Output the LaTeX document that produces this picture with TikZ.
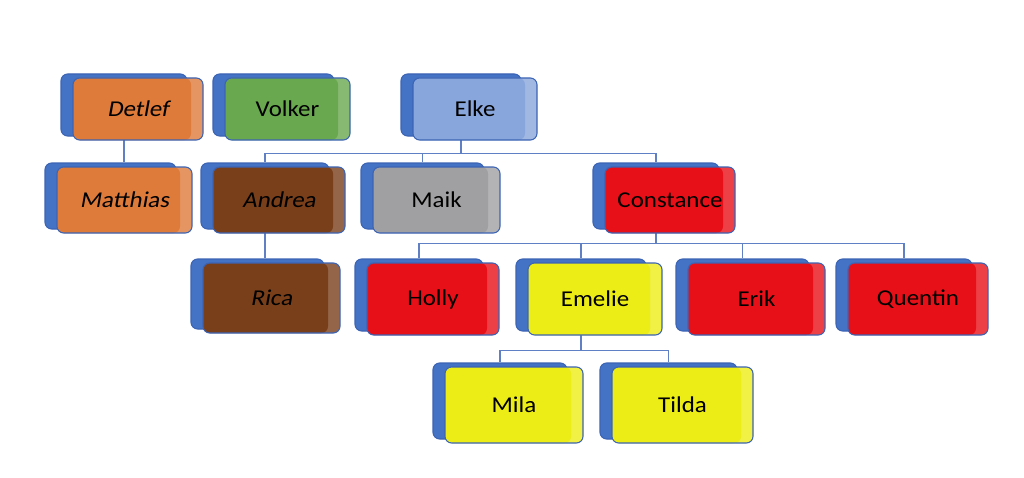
\documentclass[tikz,border=0pt]{standalone}
\usepackage{fontspec}
\newfontfamily\boxfont{Carlito}[FakeStretch=1.1]
\newfontfamily\slantfont{Carlito}[FakeStretch=1.1,FakeSlant=0.18]
\usetikzlibrary{calc,backgrounds}

\definecolor{boxblue}{RGB}{68,114,196}
\definecolor{edgeblue}{RGB}{60,100,180}
\definecolor{linkblue}{RGB}{95,128,196}
\definecolor{orangebox}{RGB}{222,122,58}
\definecolor{greenbox}{RGB}{106,168,79}
\definecolor{elkebox}{RGB}{137,166,220}
\definecolor{brownbox}{RGB}{121,63,26}
\definecolor{greybox}{RGB}{160,160,162}
\definecolor{redbox}{RGB}{232,16,24}
\definecolor{yellowbox}{RGB}{236,236,22}

\tikzset{
  backbox/.style={draw=edgeblue, fill=boxblue, rounded corners=5pt, thick},
  person/.style={draw=edgeblue, fill=#1!80!white, rounded corners=5pt,
    thick, font=\boxfont\fontsize{17}{20}\selectfont, text=black,
    path picture={\fill[#1] (path picture bounding box.south west)
      rectangle ([xshift=-9pt]path picture bounding box.north east);}},
  link/.style={draw=linkblue, line width=0.9pt},
}

\begin{document}
\begin{tikzpicture}[x=0.75pt, y=-0.75pt]
\useasboundingbox (0,0) rectangle (1024,478);

% first row
\node (detlef) [backbox, minimum width=126*0.75pt, minimum height=62*0.75pt] at (124,105) {};
\path (detlef)+(14,4) node (detlef-f) [person=orangebox, minimum width=130*0.75pt,
    minimum height=62*0.75pt] {\slantfont Detlef};

\node (volker) [backbox, minimum width=121*0.75pt, minimum height=62*0.75pt] at (273.5,105) {};
\path (volker)+(14,4) node (volker-f) [person=greenbox, minimum width=125*0.75pt,
    minimum height=62*0.75pt] {Volker};

\node (elke) [backbox, minimum width=120*0.75pt, minimum height=62*0.75pt] at (461,105) {};
\path (elke)+(14,4) node (elke-f) [person=elkebox, minimum width=124*0.75pt,
    minimum height=62*0.75pt] {Elke};

% second row
\node (matthias) [backbox, minimum width=131*0.75pt, minimum height=66*0.75pt] at (110.5,196) {};
\path (matthias)+(14,4) node (matthias-f) [person=orangebox, minimum width=135*0.75pt,
    minimum height=66*0.75pt] {\slantfont Matthias};

\node (andrea) [backbox, minimum width=128*0.75pt, minimum height=66*0.75pt] at (265,196) {};
\path (andrea)+(14,4) node (andrea-f) [person=brownbox, minimum width=132*0.75pt,
    minimum height=66*0.75pt] {\slantfont Andrea};

\node (maik) [backbox, minimum width=123*0.75pt, minimum height=66*0.75pt] at (422.5,196) {};
\path (maik)+(14,4) node (maik-f) [person=greybox, minimum width=127*0.75pt,
    minimum height=66*0.75pt] {Maik};

\node (constance) [backbox, minimum width=126*0.75pt, minimum height=66*0.75pt] at (656,196) {};
\path (constance)+(14,4) node (constance-f) [person=redbox, minimum width=130*0.75pt,
    minimum height=66*0.75pt] {Constance};

% third row
\node (rica) [backbox, minimum width=133*0.75pt, minimum height=70*0.75pt] at (257.5,294) {};
\path (rica)+(14,4) node (rica-f) [person=brownbox, minimum width=137*0.75pt,
    minimum height=70*0.75pt] {\slantfont Rica};

\node (holly) [backbox, minimum width=128*0.75pt, minimum height=72*0.75pt] at (419,295) {};
\path (holly)+(14,4) node (holly-f) [person=redbox, minimum width=132*0.75pt,
    minimum height=72*0.75pt] {Holly};

\node (emelie) [backbox, minimum width=130*0.75pt, minimum height=72*0.75pt] at (581,295) {};
\path (emelie)+(14,4) node (emelie-f) [person=yellowbox, minimum width=134*0.75pt,
    minimum height=72*0.75pt] {Emelie};

\node (erik) [backbox, minimum width=133*0.75pt, minimum height=72*0.75pt] at (742.5,295) {};
\path (erik)+(14,4) node (erik-f) [person=redbox, minimum width=137*0.75pt,
    minimum height=72*0.75pt] {Erik};

\node (quentin) [backbox, minimum width=136*0.75pt, minimum height=72*0.75pt] at (904,295) {};
\path (quentin)+(14,4) node (quentin-f) [person=redbox, minimum width=140*0.75pt,
    minimum height=72*0.75pt] {Quentin};

% fourth row
\node (mila) [backbox, minimum width=134*0.75pt, minimum height=76*0.75pt] at (500,401) {};
\path (mila)+(14,4) node (mila-f) [person=yellowbox, minimum width=138*0.75pt,
    minimum height=76*0.75pt] {Mila};

\node (tilda) [backbox, minimum width=137*0.75pt, minimum height=76*0.75pt] at (668.5,401) {};
\path (tilda)+(14,4) node (tilda-f) [person=yellowbox, minimum width=141*0.75pt,
    minimum height=76*0.75pt] {Tilda};

% connectors
\begin{scope}[on background layer]
\path[link] (detlef.south) -- (detlef.south |- matthias.north);
\path[link] (andrea.south) -- (andrea.south |- rica.north);

\coordinate (elke-bar) at ($(elke.south)+(0,17)$);
\path[link] (elke.south) -- (elke-bar);
\path[link] (elke-bar) -| (andrea.north);
\path[link] (elke-bar) -| (maik.north);
\path[link] (elke-bar) -| (constance.north);

\coordinate (constance-bar) at ($(constance.south)+(0,14)$);
\path[link] (constance.south) -- (constance-bar);
\path[link] (constance-bar) -| (holly.north);
\path[link] (constance-bar) -| (emelie.north);
\path[link] (constance-bar) -| (erik.north);
\path[link] (constance-bar) -| (quentin.north);

\coordinate (emelie-bar) at ($(emelie.south)+(0,19)$);
\path[link] (emelie.south) -- (emelie-bar);
\path[link] (emelie-bar) -| (mila.north);
\path[link] (emelie-bar) -| (tilda.north);
\end{scope}

\end{tikzpicture}
\end{document}
